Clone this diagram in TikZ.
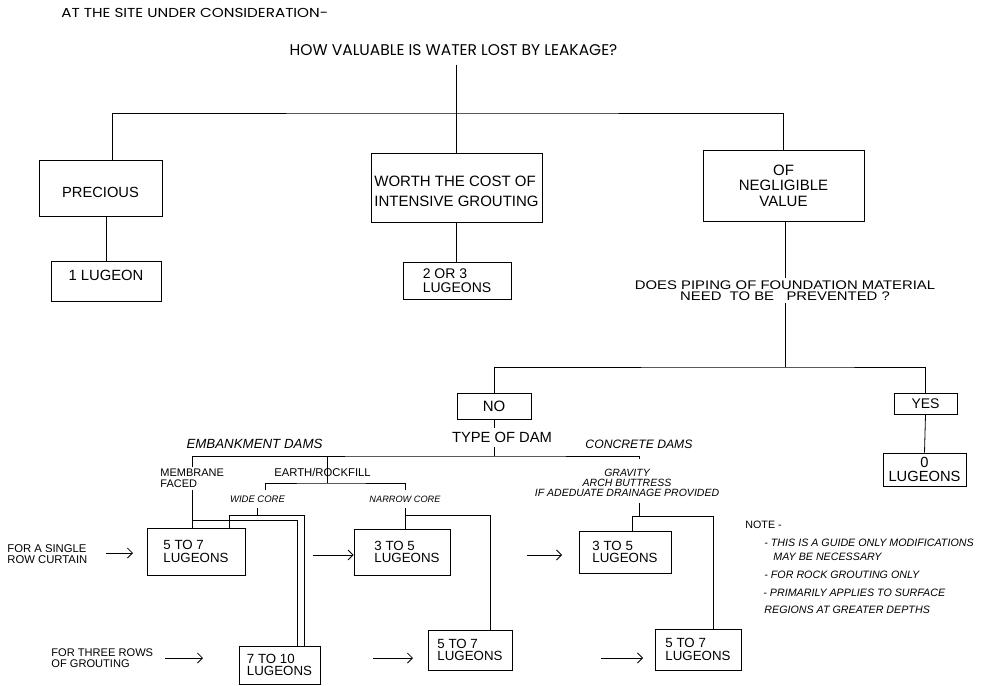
\documentclass[tikz,border=0pt]{standalone}
\usepackage{fontspec}
\setmainfont{Liberation Sans}
\newfontfamily\geo[FakeStretch=1.17]{Poppins}
\newfontfamily\geoq{Poppins}
\newfontfamily\wsans[FakeStretch=1.19]{Liberation Sans}
\usetikzlibrary{arrows.meta}
\newcommand\fsz[2]{\fontsize{#1}{#2}\selectfont}
\begin{document}
\begin{tikzpicture}[x=1pt,y=-1pt,line width=0.8pt,
  box/.style={draw,rectangle,inner sep=0pt,align=left},
  lowbox/.style={box,font=\fsz{13.3}{12.5}},
  lbl/.style={inner sep=0pt},
  arr/.style={-{Straight Barb[length=5pt,width=10pt]}}]
\useasboundingbox (0,0) rectangle (984,685);

% titles
\node[lbl,anchor=west,font=\geo\fsz{13}{14}] (site) at (61,13) {AT THE SITE UNDER CONSIDERATION-};
\node[inner xsep=0pt,inner ysep=9pt,font=\geoq\fsz{15.5}{18}] (q1) at (453.5,50) {HOW VALUABLE IS WATER LOST BY LEAKAGE?};

% first level
\node[box,minimum width=123pt,minimum height=56pt,font=\fsz{14.7}{16},text height=18.5pt] (precious) at (100.5,188) {PRECIOUS};
\node[draw,rectangle,inner sep=0pt,minimum width=171pt,minimum height=69pt,font=\fsz{15}{20}] (worth) at (456.5,187.5) {\raisebox{-4.5pt}[\height][\depth]{\begin{tabular}{@{}l@{}}WORTH THE COST OF\\INTENSIVE GROUTING\end{tabular}}};
\node[box,align=center,minimum width=161pt,minimum height=71pt,font=\fsz{15}{15.5}] (negl) at (783.5,185.5) {OF\\NEGLIGIBLE\\VALUE};
\node[box,minimum width=110pt,minimum height=40pt,font=\fsz{14.8}{16},text depth=12pt] (lug1) at (106,281) {1 LUGEON};
\node[box,minimum width=108pt,minimum height=37pt,font=\fsz{14}{14}] (l23) at (457,280.5) {2 OR 3\\LUGEONS};

\coordinate (t1) at (457,113);
\draw ([xshift=11.5pt]precious.north) |- (t1) -| (negl.north);
\draw (worth.north |- q1.south) -- (worth.north);
\draw (lug1.north |- precious.south) -- (lug1.north);
\draw (worth.south) -- (worth.south |- l23.north);

% piping question
\node[inner xsep=0pt,inner ysep=2.5pt,align=center,font=\wsans\fsz{12.5}{11}] (q2) at (785,290.5) {DOES PIPING OF FOUNDATION MATERIAL\\NEED\ \ TO BE\ \ \ PREVENTED ?};
\coordinate (j2) at (785,367);
\node[box,minimum width=74pt,minimum height=26pt,font=\fsz{15}{16}] (no) at (494,406) {NO};
\node[box,minimum width=63pt,minimum height=21pt,font=\fsz{14}{15}] (yes) at (925.5,403.5) {YES};
\node[box,align=center,minimum width=83pt,minimum height=33pt,font=\fsz{14.7}{14}] (lug0) at (924.5,469.5) {0\\LUGEONS};
\draw (q2.north |- negl.south) -- (q2.north);
\draw (q2.south) -- (j2);
\draw (no.north) |- (j2) -| (yes.north);
\draw (yes.south) -- (lug0.north);

% type of dam
\node[inner xsep=0pt,inner ysep=4pt,font=\fsz{14.75}{16}] (tod) at (502,437.5) {TYPE OF DAM};
\coordinate (hdam) at (494,456);
\draw (no.south) -- (no.south |- tod.north);
\draw (no.south |- tod.south) -- (hdam);

\node[lbl,font=\itshape\fsz{13.3}{14}] (emb) at (254.5,444) {EMBANKMENT DAMS};
\node[lbl,font=\itshape\fsz{12.2}{14}] (conc) at (639,444) {CONCRETE DAMS};
\node[inner xsep=0pt,inner ysep=2pt,anchor=west,align=left,font=\fsz{11}{11}] (mem) at (160,478.5) {MEMBRANE\\FACED};
\node[lbl,font=\fsz{11.3}{12}] (earth) at (322.5,472) {EARTH/ROCKFILL};
\node[inner xsep=0pt,inner ysep=5pt,font=\itshape\fsz{9.5}{10}] (wide) at (257.5,499) {WIDE CORE};
\node[inner xsep=0pt,inner ysep=5pt,font=\itshape\fsz{9.2}{10}] (narrow) at (405,499) {NARROW CORE};
\node[inner xsep=0pt,inner ysep=6pt,align=center,font=\itshape\fsz{10.5}{10}] (grav) at (627,483) {GRAVITY\\ARCH BUTTRESS\\IF ADEDUATE DRAINAGE PROVIDED};

% result boxes
\node[lowbox,minimum width=98pt,minimum height=47pt] (b57a) at (196,551.5) {5 TO 7\\LUGEONS};
\node[lowbox,minimum width=96pt,minimum height=46pt] (b35a) at (402,552) {\hspace*{10pt}3 TO 5\\\hspace*{10pt}LUGEONS};
\node[lowbox,minimum width=81pt,minimum height=38pt] (b710) at (279.5,665) {7 TO 10\\LUGEONS};
\node[lowbox,minimum width=84pt,minimum height=40pt] (b57b) at (470,650) {5 TO 7\\LUGEONS};
\node[lowbox,minimum width=92pt,minimum height=42pt] (b35c) at (625,552) {3 TO 5\\LUGEONS};
\node[lowbox,minimum width=86pt,minimum height=41pt] (b57c) at (698,649.5) {5 TO 7\\LUGEONS};

\coordinate (cj1) at (639,459);
\coordinate (ej) at (327,483);
\coordinate (wL) at (229,515);
\coordinate (wR) at (304,515);
\coordinate (mR) at (297,520);
\coordinate (nR) at (490,515);
\coordinate (cL) at (632,516);
\coordinate (cR) at (713,516);

\draw (mem.north) |- (hdam) -| (cj1);
\draw (ej |- hdam) -- (ej);
\draw ([xshift=7.5pt]wide.north) |- (ej) -| (narrow.north);
\draw (wide.south) -- (wide.south |- wL);
\draw (wL |- b57a.north) -- (wL) -- (wR) -- (wR |- b710.north);
\draw (mem.south) -- (mem.south |- b57a.north);
\draw (mem.south |- mR) -- (mR) -- (mR |- b710.north);
\draw (narrow.south) -- (narrow.south |- b35a.north);
\draw (narrow.south |- nR) -- (nR) -- (nR |- b57b.north);
\draw ([xshift=12pt]grav.south) -- ([xshift=12pt]grav.south |- cL);
\draw (cL |- b35c.north) -- (cL) -- (cR) -- (cR |- b57c.north);

% row labels and arrows
\node[lbl,anchor=west,align=left,font=\fsz{11.3}{11}] (single) at (7,554.5) {FOR A SINGLE\\ROW CURTAIN};
\node[lbl,anchor=west,align=left,font=\fsz{11.1}{11}] (three) at (51,658.5) {FOR THREE ROWS\\OF GROUTING};
\coordinate (a1s) at (106,553); \coordinate (a1e) at (133,553);
\coordinate (a2s) at (313,555);
\coordinate (a3s) at (527,555); \coordinate (a3e) at (562,555);
\coordinate (a4s) at (165,658); \coordinate (a4e) at (203,658);
\coordinate (a5s) at (373,658); \coordinate (a5e) at (413,658);
\coordinate (a6s) at (601,658); \coordinate (a6e) at (643,658);
\draw[arr] (a1s) -- (a1e);
\draw[arr] (a2s) -- (a2s -| b35a.west);
\draw[arr] (a3s) -- (a3e);
\draw[arr] (a4s) -- (a4e);
\draw[arr] (a5s) -- (a5e);
\draw[arr] (a6s) -- (a6e);

% note
\node[lbl,anchor=west,font=\fsz{10.7}{12}] (note) at (745,525) {NOTE -};
\node[lbl,anchor=west,font=\itshape\fsz{10.7}{12}] (n1) at (764,543) {- THIS IS A GUIDE ONLY MODIFICATIONS};
\node[lbl,anchor=west,font=\itshape\fsz{10.7}{12}] (n2) at (773,557) {MAY BE NECESSARY};
\node[lbl,anchor=west,font=\itshape\fsz{10.7}{12}] (n3) at (764,575) {- FOR ROCK GROUTING ONLY};
\node[lbl,anchor=west,font=\itshape\fsz{10.7}{12}] (n4) at (763,593) {- PRIMARILY APPLIES TO SURFACE};
\node[lbl,anchor=west,font=\itshape\fsz{10.7}{12}] (n5) at (764,610) {REGIONS AT GREATER DEPTHS};
\end{tikzpicture}
\end{document}
